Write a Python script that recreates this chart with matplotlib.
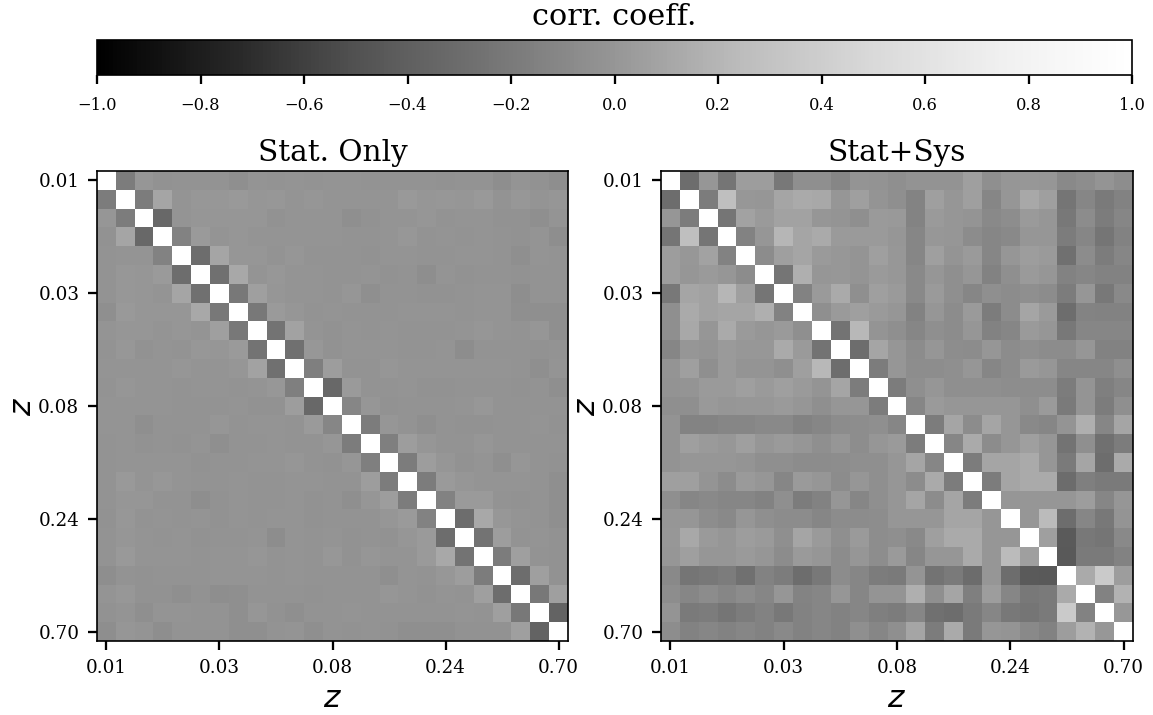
import numpy as np
import matplotlib
matplotlib.use('Agg')
import matplotlib.pyplot as plt

plt.rcParams['font.family'] = 'DejaVu Serif'
plt.rcParams['mathtext.fontset'] = 'dejavusans'

z_labels = ['0.01', '0.03', '0.08', '0.24', '0.70']
z_ticks = [0, 6, 12, 18, 24]
cbar_ticks = [-1.0, -0.8, -0.6, -0.4, -0.2, 0.0, 0.2, 0.4, 0.6, 0.8, 1.0]

# upper triangle of each matrix, one row per bin
stat_only = [
    [-0.18, 0.00, -0.03, -0.02, -0.02, -0.02, -0.04, -0.01, -0.02, -0.01, -0.02, -0.01, -0.01, -0.02, -0.02, -0.02, -0.02, -0.03, -0.02, -0.02, -0.05, -0.01, -0.03, -0.05],
    [-0.18, 0.10, -0.01, 0.01, 0.01, 0.02, 0.00, 0.01, -0.01, 0.00, -0.01, -0.01, -0.01, -0.01, 0.02, 0.00, 0.01, 0.00, 0.02, -0.02, 0.01, -0.01, 0.00],
    [-0.33, -0.01, 0.00, 0.00, 0.00, 0.00, -0.03, -0.01, -0.01, -0.01, -0.04, -0.03, -0.01, -0.01, 0.00, -0.02, -0.01, -0.01, -0.03, -0.03, -0.04, -0.01],
    [-0.14, 0.03, -0.01, 0.00, -0.01, -0.01, -0.01, -0.01, -0.01, -0.02, -0.02, -0.01, 0.01, -0.02, -0.01, -0.02, -0.01, -0.02, -0.03, -0.01, -0.05],
    [-0.29, 0.10, 0.00, 0.00, -0.02, 0.00, -0.02, -0.02, -0.02, -0.03, -0.01, -0.01, -0.02, -0.02, -0.01, -0.01, -0.02, -0.04, -0.01, -0.02],
    [-0.27, 0.12, -0.01, 0.01, -0.01, -0.01, -0.02, -0.02, -0.01, -0.03, -0.02, -0.05, -0.01, -0.03, -0.02, -0.02, -0.03, -0.02, -0.02],
    [-0.21, 0.06, 0.00, -0.01, -0.01, -0.02, 0.00, -0.04, -0.02, -0.02, -0.03, -0.03, -0.02, -0.01, -0.01, -0.05, -0.02, -0.02],
    [-0.21, 0.03, 0.00, -0.02, -0.01, -0.02, -0.02, -0.02, -0.01, -0.01, -0.01, -0.02, -0.01, -0.01, -0.04, -0.04, -0.04],
    [-0.25, 0.08, -0.01, -0.03, -0.01, -0.02, -0.01, -0.02, -0.02, -0.02, -0.01, 0.00, -0.01, -0.02, 0.00, -0.04],
    [-0.27, 0.01, -0.03, -0.01, -0.01, -0.01, -0.02, -0.02, -0.01, -0.06, -0.02, -0.02, -0.02, -0.03, -0.02],
    [-0.16, 0.05, -0.02, -0.02, 0.00, -0.01, -0.01, -0.01, -0.01, -0.01, -0.01, -0.02, -0.04, -0.01],
    [-0.33, 0.03, -0.02, -0.02, -0.01, -0.03, -0.03, -0.02, -0.02, -0.02, -0.03, -0.02, -0.04],
    [-0.11, 0.00, -0.03, -0.02, -0.02, -0.02, -0.01, 0.01, -0.02, -0.02, -0.02, -0.02],
    [-0.18, 0.00, -0.02, -0.04, -0.02, -0.03, -0.03, -0.02, -0.02, -0.01, -0.03],
    [-0.16, 0.05, 0.00, -0.02, -0.02, 0.00, -0.02, -0.02, -0.02, -0.02],
    [-0.18, 0.05, 0.00, -0.03, -0.01, -0.04, 0.00, -0.02, -0.03],
    [-0.18, 0.03, 0.00, -0.01, -0.01, -0.01, -0.02, -0.04],
    [-0.14, 0.03, 0.03, -0.02, -0.03, -0.02, -0.04],
    [-0.29, 0.12, 0.01, -0.01, -0.02, -0.04],
    [-0.25, 0.05, -0.02, -0.01, -0.03],
    [-0.18, 0.06, -0.02, -0.03],
    [-0.29, 0.06, -0.03],
    [-0.21, 0.06],
    [-0.36],
]

stat_sys = [
    [-0.29, 0.00, -0.23, 0.05, 0.05, -0.21, -0.04, -0.04, -0.11, -0.01, -0.02, -0.04, -0.02, -0.02, -0.02, 0.06, -0.04, 0.00, 0.01, 0.00, -0.09, -0.06, -0.01, -0.06],
    [-0.18, 0.27, 0.01, 0.00, 0.10, 0.13, 0.12, 0.00, 0.06, -0.01, -0.04, -0.13, 0.06, 0.00, 0.06, -0.11, 0.00, 0.12, 0.06, -0.23, -0.11, -0.20, -0.14],
    [-0.23, 0.08, 0.03, 0.08, 0.08, 0.00, -0.01, -0.04, 0.03, 0.02, -0.13, 0.03, 0.00, -0.01, -0.09, -0.06, 0.03, 0.00, -0.21, -0.07, -0.18, -0.11],
    [-0.14, 0.00, 0.21, 0.10, 0.13, 0.03, 0.03, 0.03, 0.00, -0.11, 0.01, 0.00, -0.07, -0.11, -0.09, 0.00, 0.00, -0.18, -0.11, -0.23, -0.14],
    [-0.07, 0.06, 0.10, 0.03, 0.01, -0.01, 0.06, 0.01, -0.11, 0.06, -0.01, 0.03, -0.11, 0.00, 0.05, 0.03, -0.27, -0.07, -0.18, -0.11],
    [-0.23, 0.16, 0.00, 0.01, -0.01, 0.03, 0.01, -0.09, 0.00, -0.04, 0.00, -0.14, -0.04, 0.03, 0.00, -0.14, -0.11, -0.14, -0.14],
    [-0.14, 0.03, 0.13, -0.04, 0.06, 0.03, -0.09, 0.03, -0.04, -0.11, -0.04, -0.07, -0.04, -0.07, -0.18, 0.00, -0.21, -0.09],
    [-0.04, 0.03, 0.06, 0.03, 0.00, -0.14, 0.00, -0.07, 0.03, -0.18, -0.07, 0.10, 0.03, -0.29, -0.13, -0.14, -0.14],
    [-0.25, 0.22, -0.01, -0.04, -0.11, -0.04, -0.07, 0.00, -0.14, -0.11, 0.03, 0.00, -0.21, -0.11, -0.11, -0.11],
    [-0.29, 0.10, 0.00, -0.07, 0.00, -0.06, -0.07, 0.00, -0.07, -0.04, -0.07, -0.07, 0.00, -0.14, -0.14],
    [-0.18, 0.00, -0.06, -0.06, -0.04, 0.00, -0.11, -0.07, 0.03, 0.00, -0.11, -0.11, -0.11, -0.04],
    [-0.18, -0.04, 0.00, -0.04, -0.04, -0.04, -0.06, -0.06, -0.06, -0.18, -0.01, -0.16, -0.11],
    [-0.11, 0.03, 0.00, 0.00, 0.00, 0.00, -0.04, 0.03, -0.20, -0.01, -0.18, -0.04],
    [-0.18, 0.10, -0.07, 0.10, 0.00, -0.09, -0.11, -0.01, 0.16, -0.11, 0.10],
    [-0.11, 0.13, -0.07, 0.00, 0.06, 0.00, -0.25, -0.04, -0.27, -0.18],
    [-0.18, 0.10, 0.10, 0.13, 0.00, -0.20, 0.10, -0.29, 0.13],
    [-0.18, 0.10, 0.13, 0.13, -0.30, -0.16, -0.20, -0.20],
    [0.00, 0.00, 0.00, 0.00, 0.05, -0.11, 0.00],
    [0.00, 0.24, -0.29, -0.11, -0.21, -0.01],
    [0.06, -0.43, -0.21, -0.23, -0.09],
    [-0.44, -0.20, -0.20, -0.14],
    [0.13, 0.37, 0.05],
    [-0.14, 0.18],
    [0.01],
]


# the full matrix comes from the upper triangle, diagonal is 1
def full_matrix(rows):
    n = len(rows) + 1
    m = np.eye(n)
    for i, row in enumerate(rows):
        m[i, i + 1:] = row
        m[i + 1:, i] = row
    return m


fig = plt.figure(figsize=(1153 / 150, 715 / 150), dpi=150)
ax1 = fig.add_axes([97 / 1153, 1 - 641 / 715, 471 / 1153, 470 / 715])
ax2 = fig.add_axes([661 / 1153, 1 - 641 / 715, 472 / 1153, 470 / 715])
cax = fig.add_axes([97 / 1153, 1 - 75 / 715, 1035 / 1153, 35 / 715])

panels = [(ax1, stat_only, 'Stat. Only'), (ax2, stat_sys, 'Stat+Sys')]
for ax, rows, title in panels:
    im = ax.imshow(full_matrix(rows), cmap='Greys_r', vmin=-1, vmax=1, aspect='auto')
    ax.set_xticks(z_ticks)
    ax.set_xticklabels(z_labels)
    ax.set_yticks(z_ticks)
    ax.set_yticklabels(z_labels)
    ax.tick_params(labelsize=8.8, length=4.5, width=1.1, pad=4)
    ax.set_xlabel('$z$', fontsize=15, labelpad=3)
    ax.set_ylabel('$z$', fontsize=15, labelpad=0)
    ax.set_title(title, fontsize=14.2, pad=5)

cb = fig.colorbar(im, cax=cax, orientation='horizontal')
cb.set_ticks(cbar_ticks)
cb.ax.tick_params(labelsize=7.8, length=4.5, width=1.1, pad=6)
cb.ax.set_title('corr. coeff.', fontsize=14.5, pad=7)

plt.savefig('out.png', dpi=150)
